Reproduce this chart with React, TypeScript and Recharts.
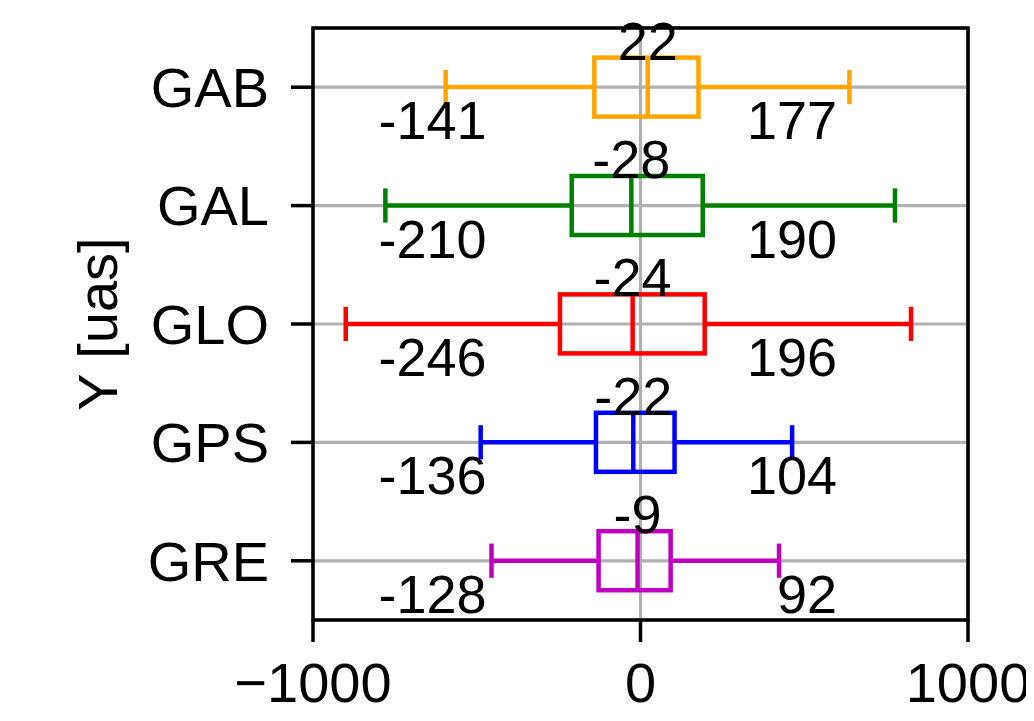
import React from "react";
import {
    ComposedChart,
    Bar,
    XAxis,
    YAxis,
    CartesianGrid,
    ReferenceArea,
    Label,
} from "recharts";

const SYSTEMS = ["GAB", "GAL", "GLO", "GPS", "GRE"];
const Q1 = [-141, -210, -246, -136, -128];
const Q3 = [177, 190, 196, 104, 92];
const MEDIAN = [22, -28, -24, -22, -9];
const WHISKER_LO = [-595, -779, -900, -488, -455];
const WHISKER_HI = [638, 777, 826, 463, 423];
const COLORS = ["#ffa500", "#008000", "#ff0000", "#0000ff", "#bf00bf"];
const X_TICKS = [-1000, 0, 1000];

// quartile annotations sit at fixed x positions (data units)
const LEFT_LABEL_AT = -800;
const RIGHT_LABEL_AT = 600;

const FONT = "'Liberation Sans', Arial, sans-serif";

const data = SYSTEMS.map((name, i) => ({
    name,
    q1: Q1[i],
    q3: Q3[i],
    median: MEDIAN[i],
    lo: WHISKER_LO[i],
    hi: WHISKER_HI[i],
    color: COLORS[i],
}));

function BoxShape(props: any) {
    const { x, y, width, height, payload } = props;
    const { q1, q3, median, lo, hi, color } = payload;
    const k = width / (q3 - q1);
    const px = (v: number) => x + (v - q1) * k;
    const cy = y + height / 2;
    const cap = height * 0.29;
    const sw = 4.5;
    return (
        <g>
            {/* whiskers */}
            <line x1={px(lo)} y1={cy} x2={px(q1)} y2={cy} stroke={color} strokeWidth={sw} />
            <line x1={px(q3)} y1={cy} x2={px(hi)} y2={cy} stroke={color} strokeWidth={sw} />
            <line x1={px(lo)} y1={cy - cap} x2={px(lo)} y2={cy + cap} stroke={color} strokeWidth={sw} />
            <line x1={px(hi)} y1={cy - cap} x2={px(hi)} y2={cy + cap} stroke={color} strokeWidth={sw} />
            {/* box + median */}
            <rect x={px(q1)} y={y} width={px(q3) - px(q1)} height={height} fill="none" stroke={color} strokeWidth={sw} />
            <line x1={px(median)} y1={y} x2={px(median)} y2={y + height} stroke={color} strokeWidth={sw} />
            {/* value labels */}
            <text x={px(median)} y={y + 2} textAnchor="middle" fontSize={54} fontFamily={FONT} fill="#000">
                {median}
            </text>
            <text x={px(LEFT_LABEL_AT)} y={cy + 52} textAnchor="start" fontSize={54} fontFamily={FONT} fill="#000">
                {q1}
            </text>
            <text x={px(RIGHT_LABEL_AT)} y={cy + 52} textAnchor="end" fontSize={54} fontFamily={FONT} fill="#000">
                {q3}
            </text>
        </g>
    );
}

const fmt = (v: number) => (v < 0 ? `\u2212${Math.abs(v)}` : `${v}`);

export default function App() {
    return (
        <ComposedChart
            width={1026}
            height={713}
            data={data}
            layout="vertical"
            margin={{ top: 20, right: 66, bottom: 0, left: 0 }}
            barCategoryGap="25%"
        >
            <CartesianGrid stroke="#b0b0b0" strokeWidth={3.2} />
            <XAxis
                type="number"
                domain={[-1000, 1000]}
                ticks={X_TICKS}
                tickFormatter={fmt}
                height={101}
                axisLine={false}
                tickSize={22}
                tickMargin={20}
                tickLine={{ stroke: "#000", strokeWidth: 3.5 }}
                tick={{ fill: "#000", fontSize: 56, fontFamily: FONT }}
            />
            <YAxis
                type="category"
                dataKey="name"
                width={305}
                axisLine={false}
                tickSize={22}
                tickMargin={22}
                tickLine={{ stroke: "#000", strokeWidth: 3.5 }}
                tick={{ fill: "#000", fontSize: 56, fontFamily: FONT }}
            >
                <Label
                    content={(p: any) => {
                        const vb = p.viewBox || { y: 20, height: 592 };
                        const cy = vb.y + vb.height / 2;
                        return (
                            <text
                                x={89}
                                y={cy}
                                transform={`rotate(-90, 89, ${cy})`}
                                textAnchor="middle"
                                dominantBaseline="central"
                                fontSize={56}
                                fontFamily={FONT}
                                fill="#000"
                            >
                                Y [uas]
                            </text>
                        );
                    }}
                />
            </YAxis>
            <ReferenceArea x1={-1000} x2={1000} fill="none" stroke="#000" strokeWidth={3.5} ifOverflow="visible" />
            <Bar dataKey={(d: any) => [d.q1, d.q3]} shape={BoxShape} isAnimationActive={false} />
        </ComposedChart>
    );
}
